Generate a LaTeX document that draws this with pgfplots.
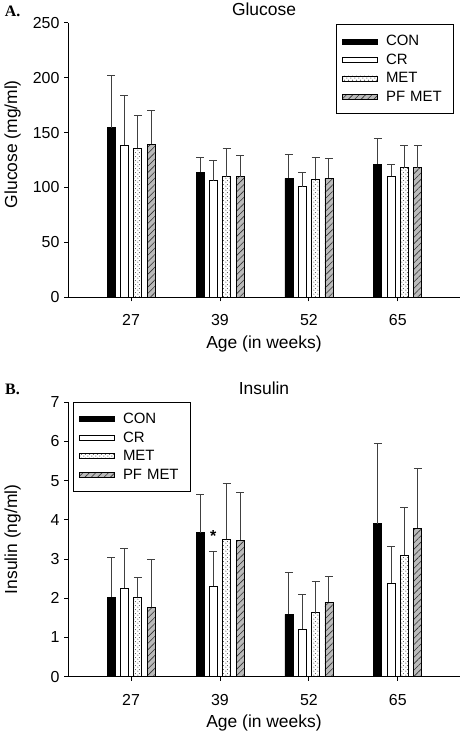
\documentclass[border=0pt]{standalone}
\usepackage{pgfplots}
\pgfplotsset{compat=1.18}
\usetikzlibrary{patterns.meta}
\usepackage{fontspec}
\setmainfont{Liberation Sans}
\newfontfamily\serifbf{Liberation Serif}

\pgfdeclarepattern{
  name=stagdots, type=uncolored,
  bottom left={\pgfpoint{0bp}{0bp}}, top right={\pgfpoint{3.6bp}{3.6bp}},
  tile size={\pgfpoint{3.6bp}{3.6bp}},
  code={\pgfpathcircle{\pgfpoint{0.9bp}{0.9bp}}{0.6bp}
        \pgfpathcircle{\pgfpoint{2.7bp}{2.7bp}}{0.6bp}
        \pgfusepath{fill}}
}

\pgfplotsset{
  mybars/.style={
    scale only axis, width=392bp, height=274.5bp,
    ybar, bar width=8bp,
    xmin=-0.71, xmax=3.70, ymin=0,
    axis x line*=bottom, axis y line*=left,
    axis line style={line width=0.8bp},
    xtick={0,1,2,3}, xticklabels={27,39,52,65},
    tick align=outside, major tick length=4bp,
    tick style={line width=0.8bp, black},
    /pgf/number format/assume math mode=true,
    tick label style={font=\fontsize{16}{18}\selectfont},
    yticklabel style={xshift=-1bp},
    xticklabel style={yshift=-10bp},
    label style={font=\fontsize{17.5}{20}\selectfont},
    xlabel style={at={(axis description cs:0.5,-0.185)}, anchor=base},
    title style={font=\fontsize{17.5}{20}\selectfont, at={(axis description cs:0.5,1.006)}, anchor=base},
    xlabel={Age (in weeks)},
    error bars/y dir=plus, error bars/y explicit,
    error bars/error bar style={line width=0.8bp, draw=black!75, solid},
    error bars/error mark options={rotate=90, mark size=4bp, line width=0.8bp, draw=black!75},
    every axis plot post/.append style={
      legend image code/.code={\draw[##1] (0bp,-2.5bp) rectangle (35bp,2.5bp);}
    },
    legend cell align=left,
    legend style={draw=black, line width=0.8bp, fill=white,
      font=\fontsize{15}{17}\selectfont,
      inner xsep=6.3bp, inner ysep=9.5bp, row sep=4.7bp,
      nodes={inner sep=1bp},
      /tikz/every odd column/.append style={column sep=7bp},
      /tikz/every even column/.append style={text width=60bp}},
  },
  con/.style={fill=black, draw=black, line width=0.6bp, bar shift=-20bp},
  cr/.style={fill=white, draw=black, line width=0.6bp, bar shift=-6.67bp},
  met/.style={fill=white, draw=black, line width=0.6bp, bar shift=6.67bp,
    postaction={pattern=stagdots, pattern color=black!65}},
  pf/.style={fill=black!27, draw=black, line width=0.6bp, bar shift=20bp,
    postaction={pattern={Lines[angle=45, distance=4.5bp, line width=0.6bp]}, pattern color=black!80}},
}

\begin{document}
\begin{tikzpicture}
\path[use as bounding box] (0,0) rectangle (463bp,-734bp);

\node[anchor=center, font=\serifbf\bfseries\fontsize{16}{18}\selectfont] at (12.5bp,-11bp) {A.};
\node[anchor=center, font=\serifbf\bfseries\fontsize{16}{18}\selectfont] at (12.5bp,-389bp) {B.};

\begin{axis}[mybars, at={(68bp,-297.3bp)}, anchor=south west,
  ymax=250, ytick={0,50,100,150,200,250},
  ylabel={Glucose (mg/ml)}, title={Glucose},
  ylabel style={at={(axis description cs:-0.141,0.558)}, anchor=center},
  legend style={at={(axis description cs:0.683,0.994)}, anchor=north west}]
\addplot[con] coordinates {(0,154.4) +- (0,47.6) (1,113.8) +- (0,13.6) (2,108.3) +- (0,21.5) (3,121.3) +- (0,23.4)};
\addplot[cr] coordinates {(0,138.6) +- (0,44.9) (1,106.2) +- (0,18.8) (2,100.7) +- (0,13.3) (3,110.1) +- (0,10.9)};
\addplot[met] coordinates {(0,135.6) +- (0,30.1) (1,109.8) +- (0,26.1) (2,107.4) +- (0,20.3) (3,118.0) +- (0,20.6)};
\addplot[pf] coordinates {(0,139.2) +- (0,31.0) (1,109.8) +- (0,19.1) (2,108.6) +- (0,17.6) (3,118.0) +- (0,20.6)};
\legend{CON, CR, MET, PF MET}
\end{axis}

\begin{axis}[mybars, at={(68bp,-676.7bp)}, anchor=south west,
  ymax=7, ytick={0,1,2,3,4,5,6,7},
  ylabel={Insulin (ng/ml)}, title={Insulin},
  ylabel style={at={(axis description cs:-0.141,0.5)}, anchor=center},
  legend style={at={(axis description cs:0.012,1.0)}, anchor=north west}]
\addplot[con] coordinates {(0,2.03) +- (0,1.01) (1,3.67) +- (0,0.97) (2,1.59) +- (0,1.06) (3,3.90) +- (0,2.05)};
\addplot[cr] coordinates {(0,2.26) +- (0,1.01) (1,2.31) +- (0,0.89) (2,1.22) +- (0,0.87) (3,2.39) +- (0,0.93)};
\addplot[met] coordinates {(0,2.02) +- (0,0.51) (1,3.50) +- (0,1.42) (2,1.63) +- (0,0.80) (3,3.10) +- (0,1.21)};
\addplot[pf] coordinates {(0,1.77) +- (0,1.22) (1,3.48) +- (0,1.21) (2,1.90) +- (0,0.65) (3,3.79) +- (0,1.51)};
\legend{CON, CR, MET, PF MET}
\node[anchor=base, font=\bfseries\fontsize{16}{18}\selectfont, xshift=-6.67bp] at (axis cs:1,3.44) {*};
\end{axis}
\end{tikzpicture}
\end{document}
